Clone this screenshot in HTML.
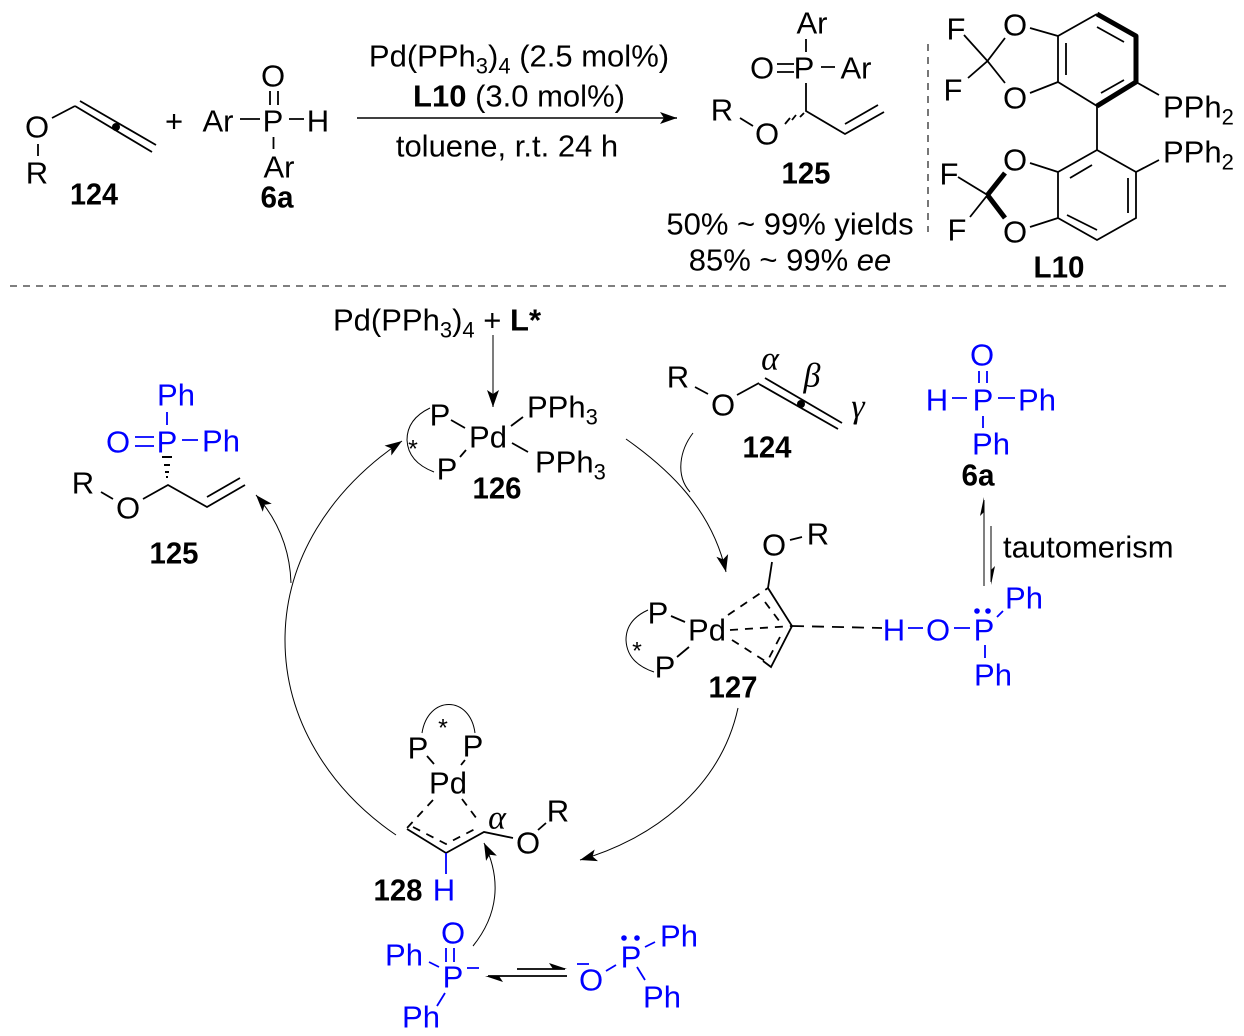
<!DOCTYPE html>
<html>
<head>
<meta charset="utf-8">
<style>
html,body{margin:0;padding:0;background:#fff}
svg{display:block}
text{font-family:"Liberation Sans",sans-serif;font-size:31px;fill:#000;transform:translateY(.7px)}
.m{text-anchor:middle}
.b{font-weight:bold}
.bl{fill:#0000ff}
.g{font-family:"Liberation Serif",serif;font-style:italic;font-size:34px}
.s{stroke:#000;stroke-width:1.8;fill:none}
.sb{stroke:#0000ff;stroke-width:1.8;fill:none}
.h{stroke:#000;stroke-width:5;fill:none;stroke-linejoin:round}
.d{stroke:#000;stroke-width:1.8;fill:none;stroke-dasharray:8 7}
.t{stroke:#000;stroke-width:1;fill:none}
</style>
</head>
<body>
<svg width="1244" height="1036" viewBox="0 0 1244 1036" xmlns="http://www.w3.org/2000/svg">
<defs>
<marker id="a" markerUnits="userSpaceOnUse" markerWidth="20" markerHeight="14" viewBox="0 0 20 14" refX="18" refY="7" orient="auto">
<path d="M18,7 L1,1 L5,7 L1,13 Z" fill="#000"/>
</marker>
</defs>

<!-- separators -->
<path d="M10,286 H1232" stroke="#333" stroke-width="1.2" stroke-dasharray="7 6" fill="none"/>
<path d="M928,44 V232" stroke="#555" stroke-width="1.6" stroke-dasharray="7 6" fill="none"/>

<!-- 124 top -->
<text class="m" x="37" y="137">O</text>
<text class="m" x="37" y="183">R</text>
<path class="s" d="M38,144V156M52,118L75,106M75,106L152,152M80,101L156,145"/>
<circle cx="116" cy="127" r="4" fill="#000"/>
<text class="m b" x="94" y="204" textLength="48" lengthAdjust="spacingAndGlyphs">124</text>
<text class="m" x="174" y="131">+</text>

<!-- 6a top -->
<text class="m" x="218" y="131">Ar</text>
<text class="m" x="273" y="131">P</text>
<text class="m" x="318" y="131">H</text>
<text class="m" x="273" y="86">O</text>
<text class="m" x="279" y="177">Ar</text>
<path class="s" d="M240,119H260M289,119H304M270,91V105M278,91V105M273.500,137V149"/>
<text class="m b" x="277" y="207" textLength="33" lengthAdjust="spacingAndGlyphs">6a</text>

<!-- conditions -->
<text class="m" x="519" y="66">Pd(PPh<tspan font-size="22" dy="7">3</tspan><tspan dy="-7">)</tspan><tspan font-size="22" dy="7">4</tspan><tspan dy="-7"> (2.5 mol%)</tspan></text>
<text class="m" x="519" y="106"><tspan class="b">L10</tspan> (3.0 mol%)</text>
<text class="m" x="507" y="156">toluene, r.t. 24 h</text>
<path d="M357,118H677" stroke="#000" stroke-width="1.4" fill="none" marker-end="url(#a)"/>

<!-- 125 top -->
<text class="m" x="812" y="33">Ar</text>
<text class="m" x="762" y="78">O</text>
<text class="m" x="804" y="78">P</text>
<text class="m" x="856" y="78">Ar</text>
<text class="m" x="722" y="120">R</text>
<text class="m" x="767" y="144">O</text>
<path class="s" d="M806,39V52M777,64H794M777,72H794M821,67H835M806,83V111L845,134L884,112M845,124L878,105M740,118L753,126"/>
<path d="M804,113L800,117M796,115L792,120M790,118L785,124" stroke="#000" stroke-width="1.8" fill="none"/>
<text class="m b" x="806" y="183" textLength="49" lengthAdjust="spacingAndGlyphs">125</text>
<text class="m" x="790" y="234">50% ~ 99% yields</text>
<text class="m" x="790" y="270">85% ~ 99% <tspan font-style="italic">ee</tspan></text>

<!-- L10 -->
<text class="m" x="1015" y="35">O</text>
<text class="m" x="1015" y="108">O</text>
<text class="m" x="956" y="39">F</text>
<text class="m" x="953" y="100">F</text>
<path class="s" d="M1097,106L1058,82V36L1097,14M1066,43V75M1097,27L1124,42M1124,80L1101,93M1030,28L1058,36M1030,93L1058,82M1005,38L987.500,61L1005,83M964,35L987.500,61L968,78M1136,82L1159,95M1097,106V150"/>
<path class="h" d="M1097,14L1136,36V82L1097,106"/>
<text x="1163" y="117">PPh<tspan font-size="22" dy="7">2</tspan></text>
<text x="1163" y="162">PPh<tspan font-size="22" dy="7">2</tspan></text>
<path class="s" d="M1097,150L1136,172V218L1097,240L1058,218V172L1097,150M1070,178L1092,165M1128,178V213M1097,230L1067,215M1030,163L1058,172M1030,227L1058,218M1136,172L1159,160M958,177L987.500,195L970,217"/>
<path class="h" d="M987.500,195L1005,173M987.500,195L1005,218"/>
<text class="m" x="1015" y="170">O</text>
<text class="m" x="1015" y="242">O</text>
<text class="m" x="949" y="184">F</text>
<text class="m" x="957" y="240">F</text>
<text class="m b" x="1059" y="277" textLength="51" lengthAdjust="spacingAndGlyphs">L10</text>

<!-- Pd(PPh3)4 + L* -->
<text x="333" y="330">Pd(PPh<tspan font-size="22" dy="7">3</tspan><tspan dy="-7">)</tspan><tspan font-size="22" dy="7">4</tspan><tspan dy="-7"> + </tspan><tspan class="b">L</tspan><tspan class="b">*</tspan></text>
<path d="M493,335V407" stroke="#444" stroke-width="1.4" fill="none" marker-end="url(#a)"/>

<!-- 126 -->
<text class="m" x="440" y="425">P</text>
<text class="m" x="488" y="447">Pd</text>
<text class="m" x="447" y="479">P</text>
<text x="527" y="417">PPh<tspan font-size="22" dy="7">3</tspan></text>
<text x="535" y="472">PPh<tspan font-size="22" dy="7">3</tspan></text>
<text class="m" x="413" y="457" style="font-size:25px">*</text>
<path class="s" d="M451,420L465,428M460,457L466,450M511,426L523,417M512,443L528,452"/>
<path class="t" d="M430,408Q407,419 407,440Q408,462 434,472"/>
<text class="m b" x="497" y="498" textLength="49" lengthAdjust="spacingAndGlyphs">126</text>

<!-- 125 lower -->
<text class="m bl" x="176" y="405">Ph</text>
<text class="m bl" x="118" y="452">O</text>
<text class="m bl" x="167" y="452">P</text>
<text class="m bl" x="221" y="451">Ph</text>
<path class="sb" d="M167,412V425M135,437H154M135,446H154M182,440H198"/>
<path d="M162,457H172M164,465H170M165,472H169M166,477H168" stroke="#000" stroke-width="2" fill="none"/>
<text class="m" x="83" y="493">R</text>
<text class="m" x="128" y="518">O</text>
<path class="s" d="M101,492L113,499M143,499L168,485L207,507L245,485M207,497L240,478"/>
<text class="m b" x="174" y="563" textLength="49" lengthAdjust="spacingAndGlyphs">125</text>

<!-- cycle arrows -->
<path class="t" d="M396,835C330,790 285,720 285,640C285,560 330,490 402,441" marker-end="url(#a)"/>
<path class="t" d="M291,583C290,550 278,520 256,495" marker-end="url(#a)"/>
<path class="t" d="M626,439C670,470 712,510 726,572" marker-end="url(#a)"/>
<path class="t" d="M693,433C680,450 675,475 690,492"/>
<path class="t" d="M738,708C720,790 650,840 580,860" marker-end="url(#a)"/>
<path class="t" d="M473,946C498,915 502,880 484,843" marker-end="url(#a)"/>

<!-- 124 mid -->
<text class="m" x="678" y="387">R</text>
<text class="m" x="723" y="415">O</text>
<path class="s" d="M695,387L708,394M737,395L759,383M759,384L838,429M765,378L842,423"/>
<circle cx="801" cy="404" r="4" fill="#000"/>
<text class="m g" x="770" y="369">α</text>
<text class="m g" x="812" y="386">β</text>
<text class="m g" x="858" y="417">γ</text>
<text class="m b" x="767" y="457" textLength="49" lengthAdjust="spacingAndGlyphs">124</text>

<!-- 6a mid -->
<text class="m bl" x="982" y="365">O</text>
<text class="m bl" x="937" y="410">H</text>
<text class="m bl" x="983" y="410">P</text>
<text class="m bl" x="1037" y="410">Ph</text>
<text class="m bl" x="991" y="454">Ph</text>
<path class="sb" d="M979,371V383M987,371V383M952,398H967M998,398H1015M983,416V428"/>
<text class="m b" x="978" y="485" textLength="33" lengthAdjust="spacingAndGlyphs">6a</text>

<!-- tautomerism -->
<path class="t" d="M984,586V500"/>
<polygon points="984,497 980,516 984,512" fill="#000"/>
<path class="t" d="M991,526V582"/>
<polygon points="991,585 995,566 991,570" fill="#000"/>
<text x="1003" y="557">tautomerism</text>

<!-- 127 -->
<text class="m" x="658" y="623">P</text>
<text class="m" x="707" y="640">Pd</text>
<text class="m" x="665" y="677">P</text>
<text class="m" x="637" y="659" style="font-size:25px">*</text>
<path class="t" d="M648,610Q626,620 626,640Q627,663 654,672"/>
<path class="s" d="M671,616L685,622M677,657L689,647"/>
<text class="m" x="774" y="555">O</text>
<text class="m" x="818" y="544">R</text>
<path class="s" d="M790,540L802,537M772,562L768,588L792,626L771,667L763,661"/>
<path class="d" d="M728,615L768,588M730,630L792,626M732,640L765,661M765,602L780,622M780,637L769,658"/>
<path class="s" d="M792,626L882,628" stroke-dasharray="12 8"/>
<text class="m b" x="733" y="697" textLength="49" lengthAdjust="spacingAndGlyphs">127</text>
<text class="m bl" x="894" y="640">H</text>
<text class="m bl" x="938" y="640">O</text>
<text class="m bl" x="984" y="640">P</text>
<text class="m bl" x="1024" y="608">Ph</text>
<text class="m bl" x="993" y="685">Ph</text>
<circle cx="977" cy="611" r="2.800" fill="#0000ff"/>
<circle cx="988" cy="611" r="2.800" fill="#0000ff"/>
<path class="sb" d="M908,628H923M954,628H970M997,617L1003,611M985,645V658"/>

<!-- 128 -->
<text class="m" x="418" y="758">P</text>
<text class="m" x="473" y="756">P</text>
<text class="m" x="448" y="793">Pd</text>
<text class="m" x="443" y="736" style="font-size:25px">*</text>
<path class="t" d="M422,733C428,695 470,695 475,733"/>
<path class="s" d="M427,756L434,764M465,760L461,765M407,829L446,853L484,832L513,838M538,830L546,823"/>
<path class="d" d="M433,800L407,828M462,799L477,819M413,827L446,844L475,829"/>
<text class="m g" x="497" y="828">α</text>
<text class="m" x="528" y="853">O</text>
<text class="m" x="558" y="821">R</text>
<path class="sb" d="M446,853V874"/>
<text class="m b" x="398" y="900" textLength="49" lengthAdjust="spacingAndGlyphs">128</text>
<text class="m bl" x="444" y="900">H</text>

<!-- bottom anion -->
<text class="m bl" x="453" y="943">O</text>
<text class="m bl" x="453" y="987">P</text>
<text class="m bl" x="404" y="965">Ph</text>
<text class="m bl" x="421" y="1027">Ph</text>
<path class="sb" d="M446,948V962M454,948V962M429,962L439,967M445,993L437,1006M467,968H479"/>
<path class="s" d="M517,969H565" stroke-width="1.400"/>
<polygon points="567,969 549,963 553,969" fill="#000"/>
<path class="s" d="M567,976H488" stroke-width="1.400"/>
<polygon points="485,976 503,982 499,976" fill="#000"/>
<text class="m bl" x="591" y="990">O</text>
<path class="sb" d="M577,964H589M606,971L616,965M645,947L655,942M637,967L645,980"/>
<text class="m bl" x="631" y="967">P</text>
<circle cx="624" cy="938" r="2.800" fill="#0000ff"/>
<circle cx="637" cy="938" r="2.800" fill="#0000ff"/>
<text class="m bl" x="679" y="946">Ph</text>
<text class="m bl" x="662" y="1007">Ph</text>
</svg>
</body>
</html>
